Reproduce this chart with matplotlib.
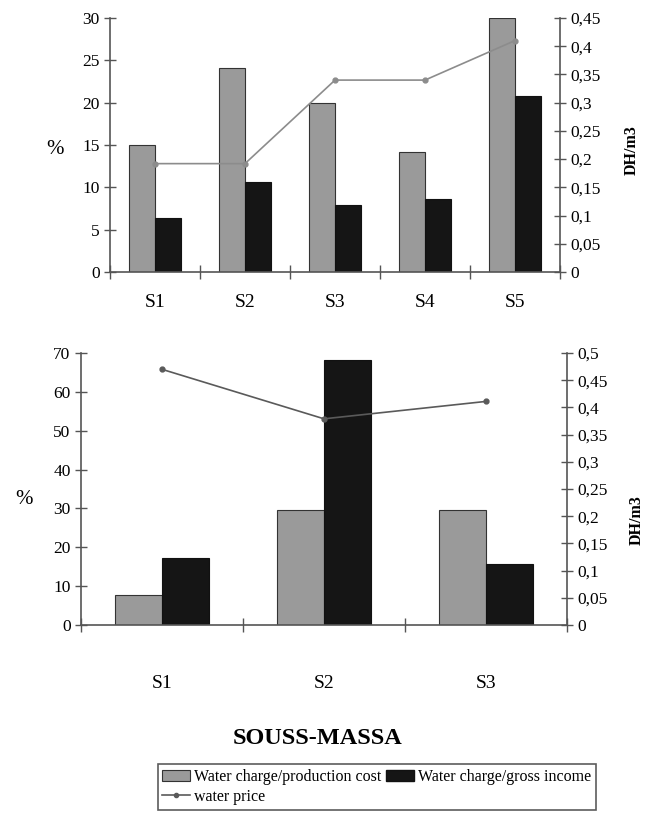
import matplotlib
matplotlib.use("Agg")
import matplotlib.pyplot as plt
import numpy as np
from matplotlib.ticker import FuncFormatter, MultipleLocator, FixedLocator
from matplotlib.patches import Patch
from matplotlib.lines import Line2D

plt.rcParams['font.family'] = ['Liberation Serif', 'DejaVu Serif']

# ---- data ----
top_cats = ["S1", "S2", "S3", "S4", "S5"]
top_prod_cost = [15.0, 24.1, 20.0, 14.2, 30.0]
top_gross_income = [6.4, 10.6, 7.9, 8.6, 20.8]
top_price = [0.192, 0.192, 0.340, 0.340, 0.410]

bot_cats = ["S1", "S2", "S3"]
bot_prod_cost = [7.7, 29.5, 29.5]
bot_gross_income = [17.2, 68.1, 15.7]
bot_price = [0.47, 0.379, 0.411]

title = "SOUSS-MASSA"
lbl_prod = "Water charge/production cost"
lbl_gross = "Water charge/gross income"
lbl_price = "water price"

GRAY = "#9a9a9a"
BLACK = "#151515"
AXC = "#555555"

W, H = 645, 835
fig = plt.figure(figsize=(W / 100, H / 100), dpi=100)


def comma_fmt(v, pos):
    s = ("%.2f" % v).rstrip("0").rstrip(".")
    return s.replace(".", ",")


def make_panel(rect, cats, gray, black, price, ymax, ystep, rmax, linecol, xpad, pct_pos, dh_pos):
    ax = fig.add_axes(rect)
    n = len(cats)
    x = np.arange(n)
    bw = 0.29
    ax.bar(x - bw / 2, gray, bw, color=GRAY, edgecolor="#333333", linewidth=0.8, zorder=2)
    ax.bar(x + bw / 2, black, bw, color=BLACK, edgecolor="#111111", linewidth=0.8, zorder=2)
    ax.set_xlim(-0.5, n - 0.5)
    ax.set_ylim(0, ymax)
    ax.yaxis.set_major_locator(MultipleLocator(ystep))
    ax.set_xticks(x)
    ax.set_xticklabels(cats, fontsize=14)
    ax.tick_params(axis="x", which="major", length=0, pad=xpad)
    ax.xaxis.set_minor_locator(FixedLocator(np.arange(-0.5, n, 1.0)))
    ax.tick_params(axis="x", which="minor", direction="inout", length=10, width=1.0, color=AXC)
    ax.tick_params(axis="y", direction="inout", length=9, width=1.0, color=AXC, labelsize=12.5, pad=3)
    ax.spines["top"].set_visible(False)
    ax.spines["right"].set_visible(False)
    for sp in ["left", "bottom"]:
        ax.spines[sp].set_color(AXC)
        ax.spines[sp].set_linewidth(1.2)

    ax2 = ax.twinx()
    ax2.plot(x, price, color=linecol, marker="o", markersize=3.5, linewidth=1.2, zorder=3)
    ax2.set_ylim(0, rmax)
    ax2.yaxis.set_major_locator(MultipleLocator(0.05))
    ax2.yaxis.set_major_formatter(FuncFormatter(comma_fmt))
    ax2.tick_params(axis="y", direction="inout", length=9, width=1.0, color=AXC, labelsize=12.5, pad=3)
    for sp in ["top", "left", "bottom"]:
        ax2.spines[sp].set_visible(False)
    ax2.spines["right"].set_color(AXC)
    ax2.spines["right"].set_linewidth(1.2)

    fig.text(pct_pos[0] / W, 1 - pct_pos[1] / H, "%", fontsize=15, ha="center", va="center")
    fig.text(dh_pos[0] / W, 1 - dh_pos[1] / H, "DH/m3", fontsize=11.5, fontweight="bold",
             rotation=90, ha="center", va="center")
    return ax, ax2


def rect_from_px(l, r, t, b):
    return [l / W, 1 - b / H, (r - l) / W, (b - t) / H]


make_panel(rect_from_px(110, 560, 18, 272), top_cats, top_prod_cost, top_gross_income, top_price,
           30, 5, 0.45, "#8c8c8c", 16, (55, 150), (632, 150))
make_panel(rect_from_px(81, 567, 353, 625), bot_cats, bot_prod_cost, bot_gross_income, bot_price,
           70, 10, 0.5, "#5a5a5a", 36, (24, 500), (637, 520))

fig.text(318 / W, 1 - 738 / H, title, fontsize=17.5, fontweight="bold", ha="center", va="center")

h_gray = Patch(facecolor=GRAY, edgecolor="#333333", linewidth=0.8)
h_black = Patch(facecolor=BLACK, edgecolor="#111111")
h_line = Line2D([0], [0], color="#5a5a5a", marker="o", markersize=3, linewidth=1.2)
leg = fig.legend([h_gray, h_line, h_black], [lbl_prod, lbl_price, lbl_gross], ncol=2,
                 loc="center", bbox_to_anchor=(377 / W, 1 - 787 / H), fontsize=11.5,
                 frameon=True, fancybox=False, edgecolor="#333333", handlelength=1.7,
                 handletextpad=0.3, columnspacing=0.3, labelspacing=0.25, borderpad=0.3,
                 borderaxespad=0)
leg.get_frame().set_linewidth(1.2)

fig.savefig("out.png", dpi=100)
